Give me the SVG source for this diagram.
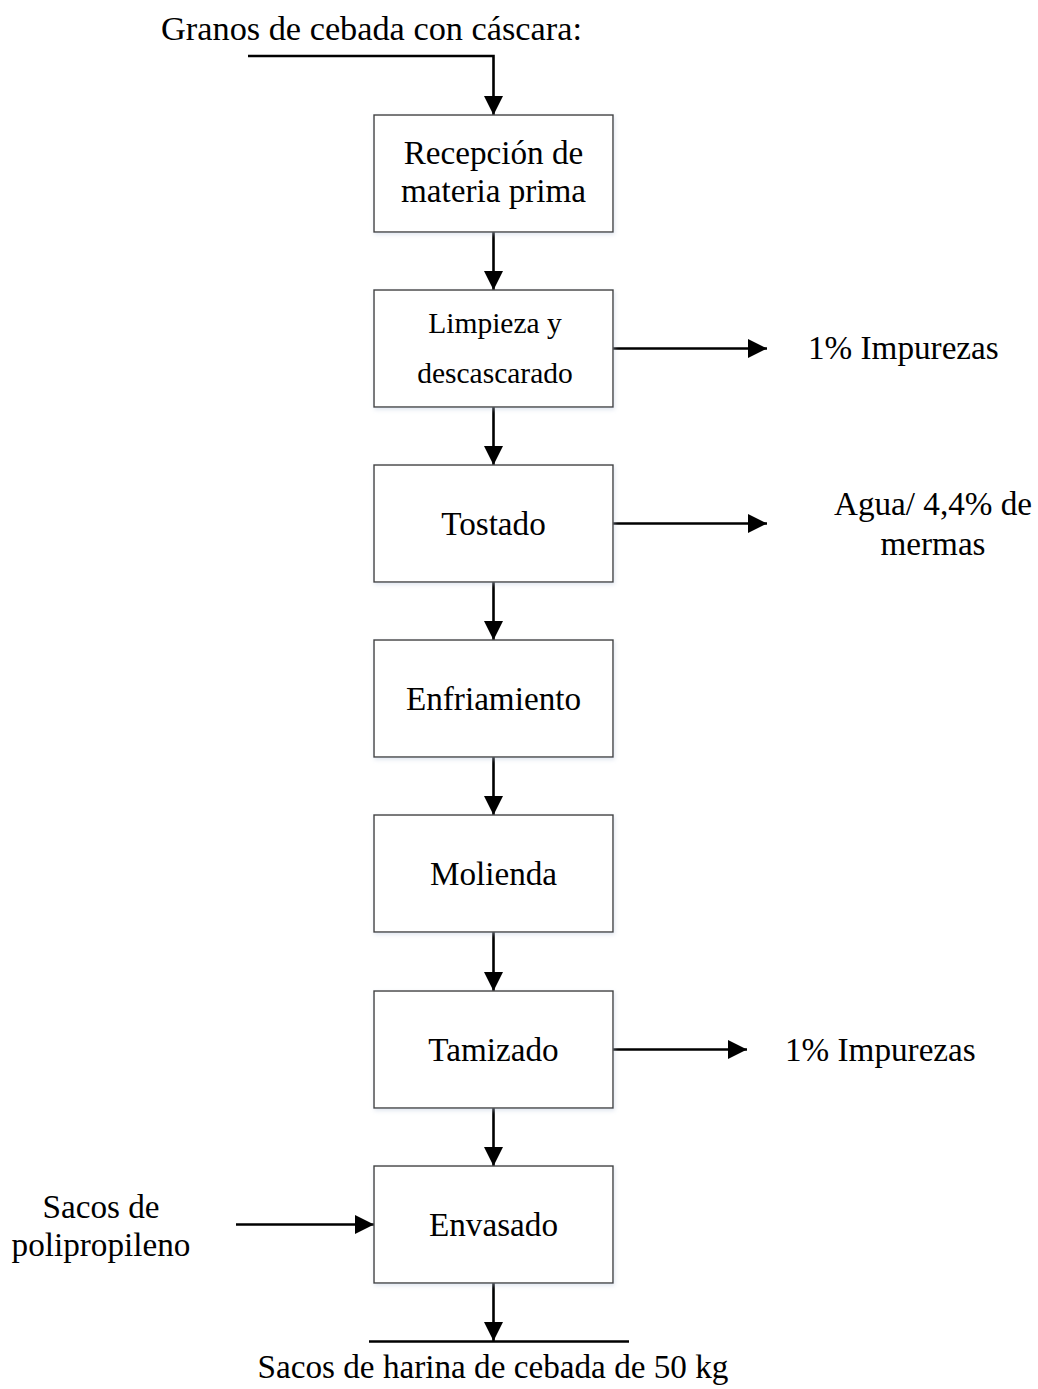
<svg xmlns="http://www.w3.org/2000/svg" width="1038" height="1389" viewBox="0 0 1038 1389">
<style>
  .box { fill: #ffffff; stroke: #404040; stroke-width: 1.4; filter: url(#sh); }
  .t { font-family: "Liberation Serif", "Times New Roman", serif; font-size: 33.2px; fill: #000; }
  .m { text-anchor: middle; }
  .s { font-size: 29.5px; }
  .big { font-size: 34.3px; }
  .ln { fill: none; stroke: #000; stroke-width: 2.6; }
</style>
<defs>
  <filter id="sh" x="-10%" y="-10%" width="120%" height="120%">
    <feDropShadow dx="1" dy="2" stdDeviation="2" flood-color="#b8c6dc" flood-opacity="0.45"/>
  </filter>
  <marker id="ah" viewBox="0 0 19 19" refX="19" refY="9.5" markerWidth="19" markerHeight="19" markerUnits="userSpaceOnUse" orient="auto">
    <path d="M0,0 L19,9.5 L0,19 Z" fill="#000"/>
  </marker>
</defs>
<rect width="1038" height="1389" fill="#ffffff"/>

<g id="connectors">
  <path class="ln" d="M248,56 H493.5 V115" marker-end="url(#ah)"/>
  <path class="ln" d="M493.5,232 V290" marker-end="url(#ah)"/>
  <path class="ln" d="M493.5,407 V465" marker-end="url(#ah)"/>
  <path class="ln" d="M493.5,582 V640" marker-end="url(#ah)"/>
  <path class="ln" d="M493.5,757 V815" marker-end="url(#ah)"/>
  <path class="ln" d="M493.5,932 V991" marker-end="url(#ah)"/>
  <path class="ln" d="M493.5,1108 V1166" marker-end="url(#ah)"/>
  <path class="ln" d="M493.5,1283 V1341" marker-end="url(#ah)"/>
  <path class="ln" d="M369,1341.5 H629"/>
  <path class="ln" d="M613,348.5 H767" marker-end="url(#ah)"/>
  <path class="ln" d="M613,523.5 H767" marker-end="url(#ah)"/>
  <path class="ln" d="M613,1049.5 H747" marker-end="url(#ah)"/>
  <path class="ln" d="M236,1224.5 H374" marker-end="url(#ah)"/>
</g>

<g id="n-input"><text class="t big m" x="371.5" y="40">Granos de cebada con cáscara:</text></g>

<g id="n-recepcion">
  <rect class="box" x="374" y="115" width="239" height="117"/>
  <text class="t m" x="493.5" y="164">Recepción de</text>
  <text class="t m" x="493.5" y="202">materia prima</text>
</g>
<g id="n-limpieza">
  <rect class="box" x="374" y="290" width="239" height="117"/>
  <text class="t s m" x="495" y="333">Limpieza y</text>
  <text class="t s m" x="495" y="383">descascarado</text>
</g>
<g id="n-tostado">
  <rect class="box" x="374" y="465" width="239" height="117"/>
  <text class="t m" x="493.5" y="535">Tostado</text>
</g>
<g id="n-enfriamiento">
  <rect class="box" x="374" y="640" width="239" height="117"/>
  <text class="t m" x="493.5" y="710">Enfriamiento</text>
</g>
<g id="n-molienda">
  <rect class="box" x="374" y="815" width="239" height="117"/>
  <text class="t m" x="493.5" y="885">Molienda</text>
</g>
<g id="n-tamizado">
  <rect class="box" x="374" y="991" width="239" height="117"/>
  <text class="t m" x="493.5" y="1061">Tamizado</text>
</g>
<g id="n-envasado">
  <rect class="box" x="374" y="1166" width="239" height="117"/>
  <text class="t m" x="493.5" y="1236">Envasado</text>
</g>

<g id="n-out1"><text class="t" x="808" y="359">1% Impurezas</text></g>
<g id="n-out2">
  <text class="t m" x="933" y="515">Agua/ 4,4% de</text>
  <text class="t m" x="933" y="555">mermas</text>
</g>
<g id="n-out3"><text class="t" x="785" y="1061">1% Impurezas</text></g>
<g id="n-sacos">
  <text class="t m" x="101" y="1218">Sacos de</text>
  <text class="t m" x="101" y="1256">polipropileno</text>
</g>
<g id="n-final"><text class="t m" x="493" y="1378">Sacos de harina de cebada de 50 kg</text></g>
</svg>
